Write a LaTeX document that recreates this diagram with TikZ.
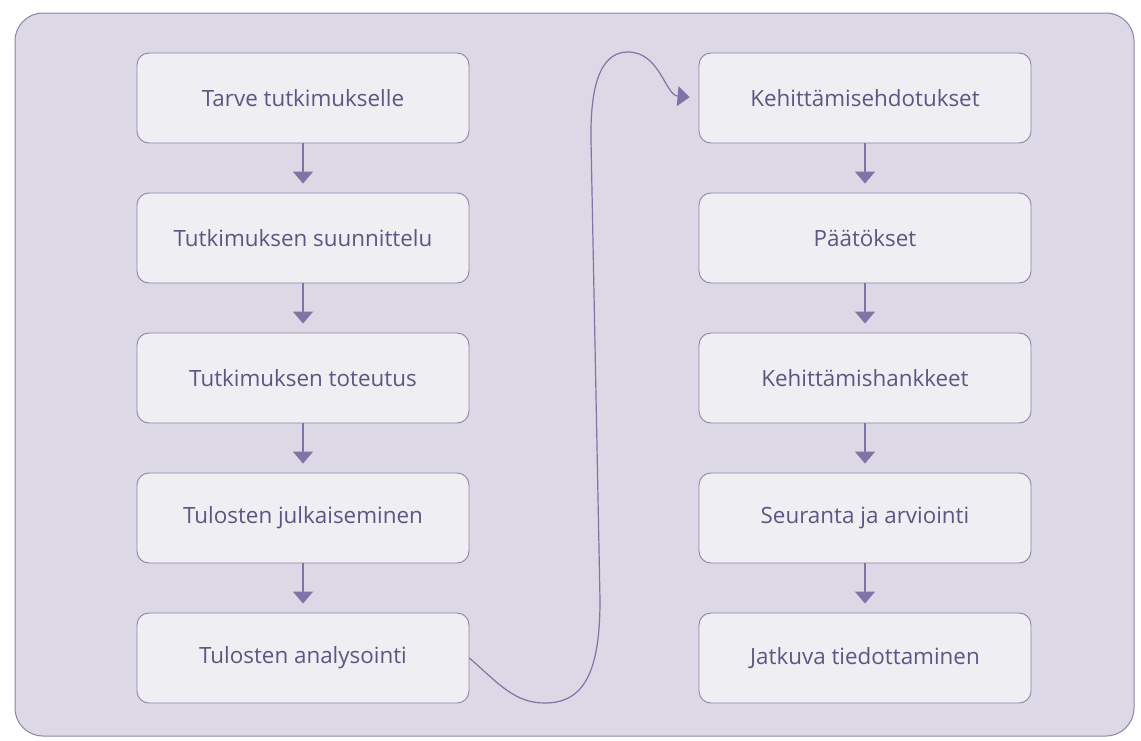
\documentclass[tikz,border=0pt]{standalone}
\usepackage{fontspec}
\setmainfont{Open Sans}
\usetikzlibrary{arrows.meta}
\definecolor{bgpurple}{HTML}{DCD8E5}
\definecolor{boxfill}{HTML}{EFEEF2}
\definecolor{edge}{HTML}{8C84A8}
\definecolor{txt}{HTML}{5F5583}
\definecolor{arr}{HTML}{7F74A6}
\tikzset{
  stepbox/.style={draw=edge, line width=0.9pt, fill=boxfill, rounded corners=12pt,
    minimum width=332pt, minimum height=90pt, inner sep=0pt, text=txt,
    font=\fontsize{22.4}{26}\selectfont},
  flow/.style={draw=arr, line width=1.2pt, -{Triangle[width=20pt,length=12pt]}, shorten >=9pt},
}
\begin{document}
\begin{tikzpicture}[x=1pt,y=-1pt]
\useasboundingbox (0,0) rectangle (1141,740);
\fill[white] (0,0) rectangle (1141,740);
\draw[draw=edge, line width=1pt, fill=bgpurple, rounded corners=28pt] (15,13) rectangle (1134,736);
\node[stepbox] (L1) at (303,98) {Tarve tutkimukselle};
\node[stepbox] (L2) at (303,238) {Tutkimuksen suunnittelu};
\node[stepbox] (L3) at (303,378) {Tutkimuksen toteutus};
\node[stepbox] (L4) at (303,518) {Tulosten julkaiseminen};
\node[stepbox] (L5) at (303,658) {Tulosten analysointi};
\node[stepbox] (R1) at (865,98) {Kehittämisehdotukset};
\node[stepbox] (R2) at (865,238) {Päätökset};
\node[stepbox] (R3) at (865,378) {Kehittämishankkeet};
\node[stepbox] (R4) at (865,518) {Seuranta ja arviointi};
\node[stepbox] (R5) at (865,658) {Jatkuva tiedottaminen};
\foreach \a/\b in {L1/L2,L2/L3,L3/L4,L4/L5,R1/R2,R2/R3,R3/R4,R4/R5}
  \draw[flow] (\a.south) -- (\b.north);
\draw[flow] (L5.east) .. controls (500,685) and (515,703) .. (545,703)
  .. controls (585,703) and (600,670) .. (600,600)
  -- (591,140) .. controls (590,75) and (605,52) .. (628,52)
  .. controls (660,52) and (665,95) .. (R1.west);
\end{tikzpicture}
\end{document}
